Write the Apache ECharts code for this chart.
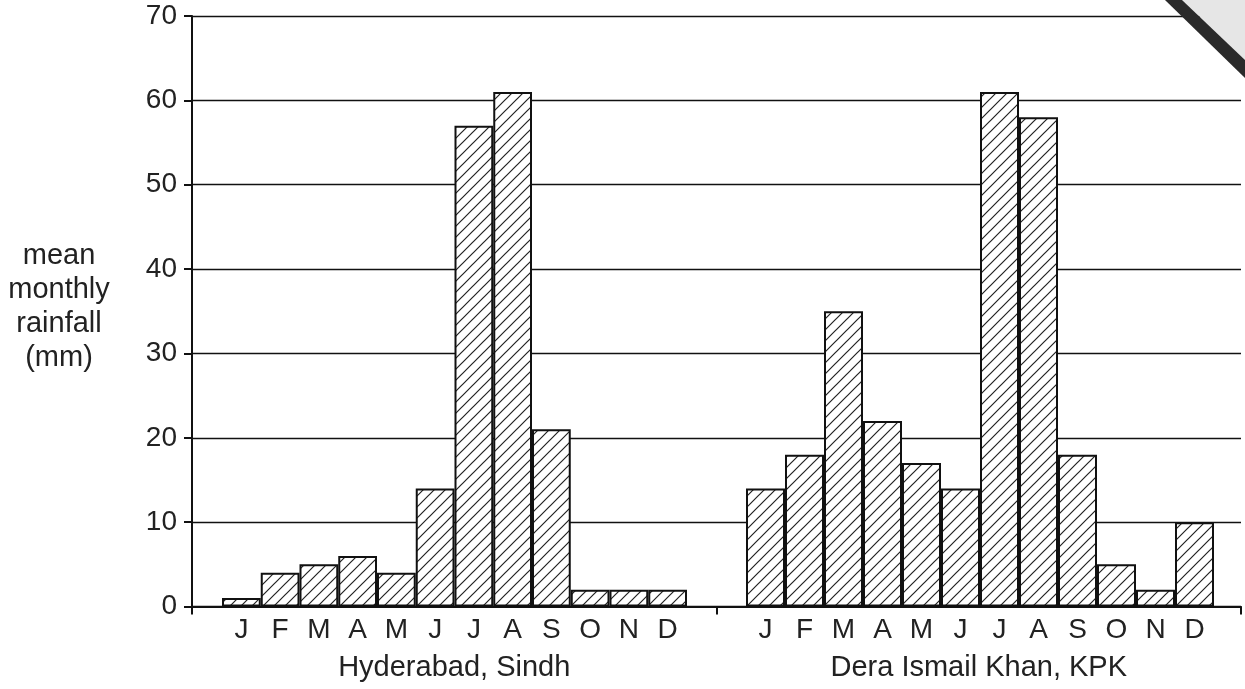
<!DOCTYPE html>
<html><head><meta charset="utf-8">
<script src="https://cdn.jsdelivr.net/npm/echarts@6/dist/echarts.min.js"></script>
<style>html,body{margin:0;padding:0;background:#fff}#c{width:1245px;height:689px}</style>
</head><body><div id="c"></div><script>
const months = ['J','F','M','A','M','J','J','A','S','O','N','D'];
const stations = ['Hyderabad, Sindh','Dera Ismail Khan, KPK'];
const hyderabad = [1,4,5,6,4,14,57,61,21,2,2,2];
const dera = [14,18,35,22,17,14,61,58,18,5,2,10];
const yMin = 0, yMax = 70, yStep = 10;
const yTitle = 'mean\nmonthly\nrainfall\n(mm)';

const FONT = "'Liberation Sans', Arial, Helvetica, sans-serif";
const TXT = '#222';

function hatch(){
  const s=11, c=document.createElement('canvas');
  c.width=c.height=s;
  const g=c.getContext('2d');
  g.fillStyle='#fff'; g.fillRect(0,0,s,s);
  g.strokeStyle='#222'; g.lineWidth=1.2;
  g.beginPath();
  g.moveTo(0,s); g.lineTo(s,0);
  g.moveTo(-2,2); g.lineTo(2,-2);
  g.moveTo(s-2,s+2); g.lineTo(s+2,s-2);
  g.stroke();
  return c;
}
const pat = {image: hatch(), repeat: 'repeat'};

const chart = echarts.init(document.getElementById('c'), null, {renderer:'canvas'});
const barStyle = {color: pat, borderColor:'#111', borderWidth:2};
const monthAxis = (gi) => ({
  type:'category', gridIndex:gi, data:months, boundaryGap:true,
  axisLine:{show:false}, axisTick:{show:false},
  axisLabel:{color:TXT, fontSize:28, fontFamily:FONT, margin:10, interval:0}
});
const hiddenY = (gi) => ({type:'value', gridIndex:gi, min:yMin, max:yMax, interval:yStep, show:false});

chart.setOption({
  animation:false,
  grid:[
    {left:192, right:4, top:16, bottom:82.5},
    {left:222, right:558, top:16, bottom:82.5},
    {left:746, right:31, top:16, bottom:82.5}
  ],
  xAxis:[
    {type:'category', gridIndex:0, data:stations, boundaryGap:true,
     axisLine:{lineStyle:{color:'#111', width:2}},
     axisTick:{show:true, length:8, lineStyle:{color:'#111', width:2}},
     axisLabel:{color:TXT, fontSize:29, fontFamily:FONT, margin:47}},
    monthAxis(1), monthAxis(2)
  ],
  yAxis:[
    {type:'value', gridIndex:0, min:yMin, max:yMax, interval:yStep,
     axisLine:{show:true, lineStyle:{color:'#111', width:2}},
     axisTick:{show:true, length:8, lineStyle:{color:'#111', width:2}},
     axisLabel:{color:TXT, fontSize:28, fontFamily:FONT, margin:15},
     splitLine:{show:true, lineStyle:{color:'#111', width:1.3}}},
    hiddenY(1), hiddenY(2)
  ],
  series:[
    {type:'bar', xAxisIndex:1, yAxisIndex:1, data:hyderabad, barWidth:'100%', itemStyle:barStyle},
    {type:'bar', xAxisIndex:2, yAxisIndex:2, data:dera, barWidth:'100%', itemStyle:barStyle}
  ],
  graphic:[
    {type:'text', x:59, y:307, style:{text:yTitle, fill:TXT, font:'29px '+FONT, align:'center', verticalAlign:'middle', lineHeight:34}},
    {type:'polygon', z:100, shape:{points:[[1182,0],[1245,0],[1245,60]]}, style:{fill:'#e6e6e6'}},
    {type:'polygon', z:100, shape:{points:[[1165,0],[1182,0],[1245,60],[1245,78]]}, style:{fill:'#2a2a2a'}}
  ]
});
</script></body></html>
